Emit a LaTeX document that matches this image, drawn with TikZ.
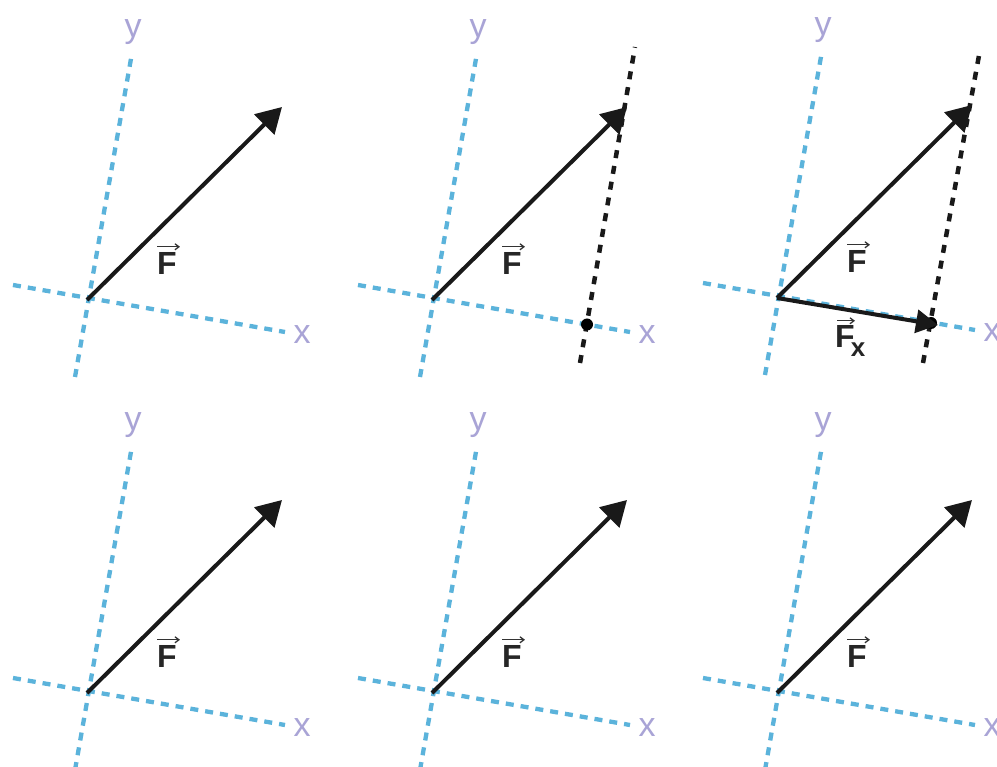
\documentclass[tikz,border=0pt]{standalone}
\usepackage{fontspec}
\setmainfont{Liberation Sans}
\usetikzlibrary{arrows.meta}
\definecolor{axisblue}{HTML}{5BB3DB}
\definecolor{lablav}{HTML}{A9A4D6}
\tikzset{
  axis/.style={draw=axisblue, line width=4.3pt, dash pattern=on 8pt off 7pt},
  axlabel/.style={text=lablav, inner sep=0pt, font=\fontsize{34}{34}\selectfont},
  force/.style={draw=black!90, line width=4pt, -{Triangle[length=25pt,width=28pt]}},
  forcex/.style={draw=black!90, line width=4pt, -{Triangle[length=22pt,width=23pt]}},
  proj/.style={draw=black!90, line width=4.5pt, dash pattern=on 8pt off 8pt},
  flabel/.style={text=black!85, inner sep=0pt, font=\fontsize{32}{32}\selectfont\bfseries},
  vecarr/.style={draw=black!80, line width=1.3pt, -{Straight Barb[length=4pt,width=6pt]}},
  footdot/.style={circle, fill=black, inner sep=0pt, minimum size=12pt},
}
\newcommand\forcepanel[3]{%
  \begin{scope}[shift={(#2,#3)}]
    \coordinate (o#1) at (0,0);
    \coordinate (ya#1) at (-12,77);
    \coordinate (yb#1) at (45,-247);
    \coordinate (xa#1) at (-74,-15);
    \coordinate (xb#1) at (198,32);
    \coordinate (tip#1) at (195,-193);
    \draw[axis] (ya#1) -- (yb#1);
    \draw[axis] (xa#1) -- (xb#1);
    \node[axlabel] (ylab#1) at (46,-268) {y};
    \node[axlabel] (xlab#1) at (215,35) {x};
    \node[flabel] (F#1) at (80,-37) {F};
    \draw[vecarr] ([yshift=5pt]F#1.north west) -- ([xshift=3pt,yshift=5pt]F#1.north east);
  \end{scope}}
\begin{document}
\begin{tikzpicture}[x=1pt,y=-1pt]
\clip (0,0) rectangle (997,767);
\fill[white] (0,0) rectangle (997,767);
% panel 1
\forcepanel{1}{87}{300}
\draw[force] (o1) -- (tip1);
% panel 2
\forcepanel{2}{432}{300}
\begin{scope}[shift={(432,300)}]
  \coordinate (pa2) at (148,63);
  \coordinate (pb2) at (203,-253);
  \draw[proj] (pa2) -- (pb2);
  \node[footdot] (d2) at (155,24.5) {};
\end{scope}
\draw[force] (o2) -- (tip2);
% panel 3
\forcepanel{3}{777}{298}
\begin{scope}[shift={(777,298)}]
  \coordinate (pa3) at (146,65);
  \coordinate (pb3) at (203,-248);
  \draw[proj] (pa3) -- (pb3);
  \node[footdot] (d3) at (154,25) {};
  \coordinate (fxtip3) at (161,27);
  \node[flabel, anchor=base west] (fx3) at (58,50) {F\kern-4pt\raisebox{-9pt}{\fontsize{26}{26}\selectfont x}};
  \draw[vecarr] ([xshift=2pt,yshift=5pt]fx3.north west) -- ([xshift=20pt,yshift=5pt]fx3.north west);
\end{scope}
\draw[force] (o3) -- (tip3);
\draw[forcex] (o3) -- (fxtip3);
% bottom row
\forcepanel{4}{87}{693}
\draw[force] (o4) -- (tip4);
\forcepanel{5}{432}{693}
\draw[force] (o5) -- (tip5);
\forcepanel{6}{777}{693}
\draw[force] (o6) -- (tip6);
\end{tikzpicture}
\end{document}
